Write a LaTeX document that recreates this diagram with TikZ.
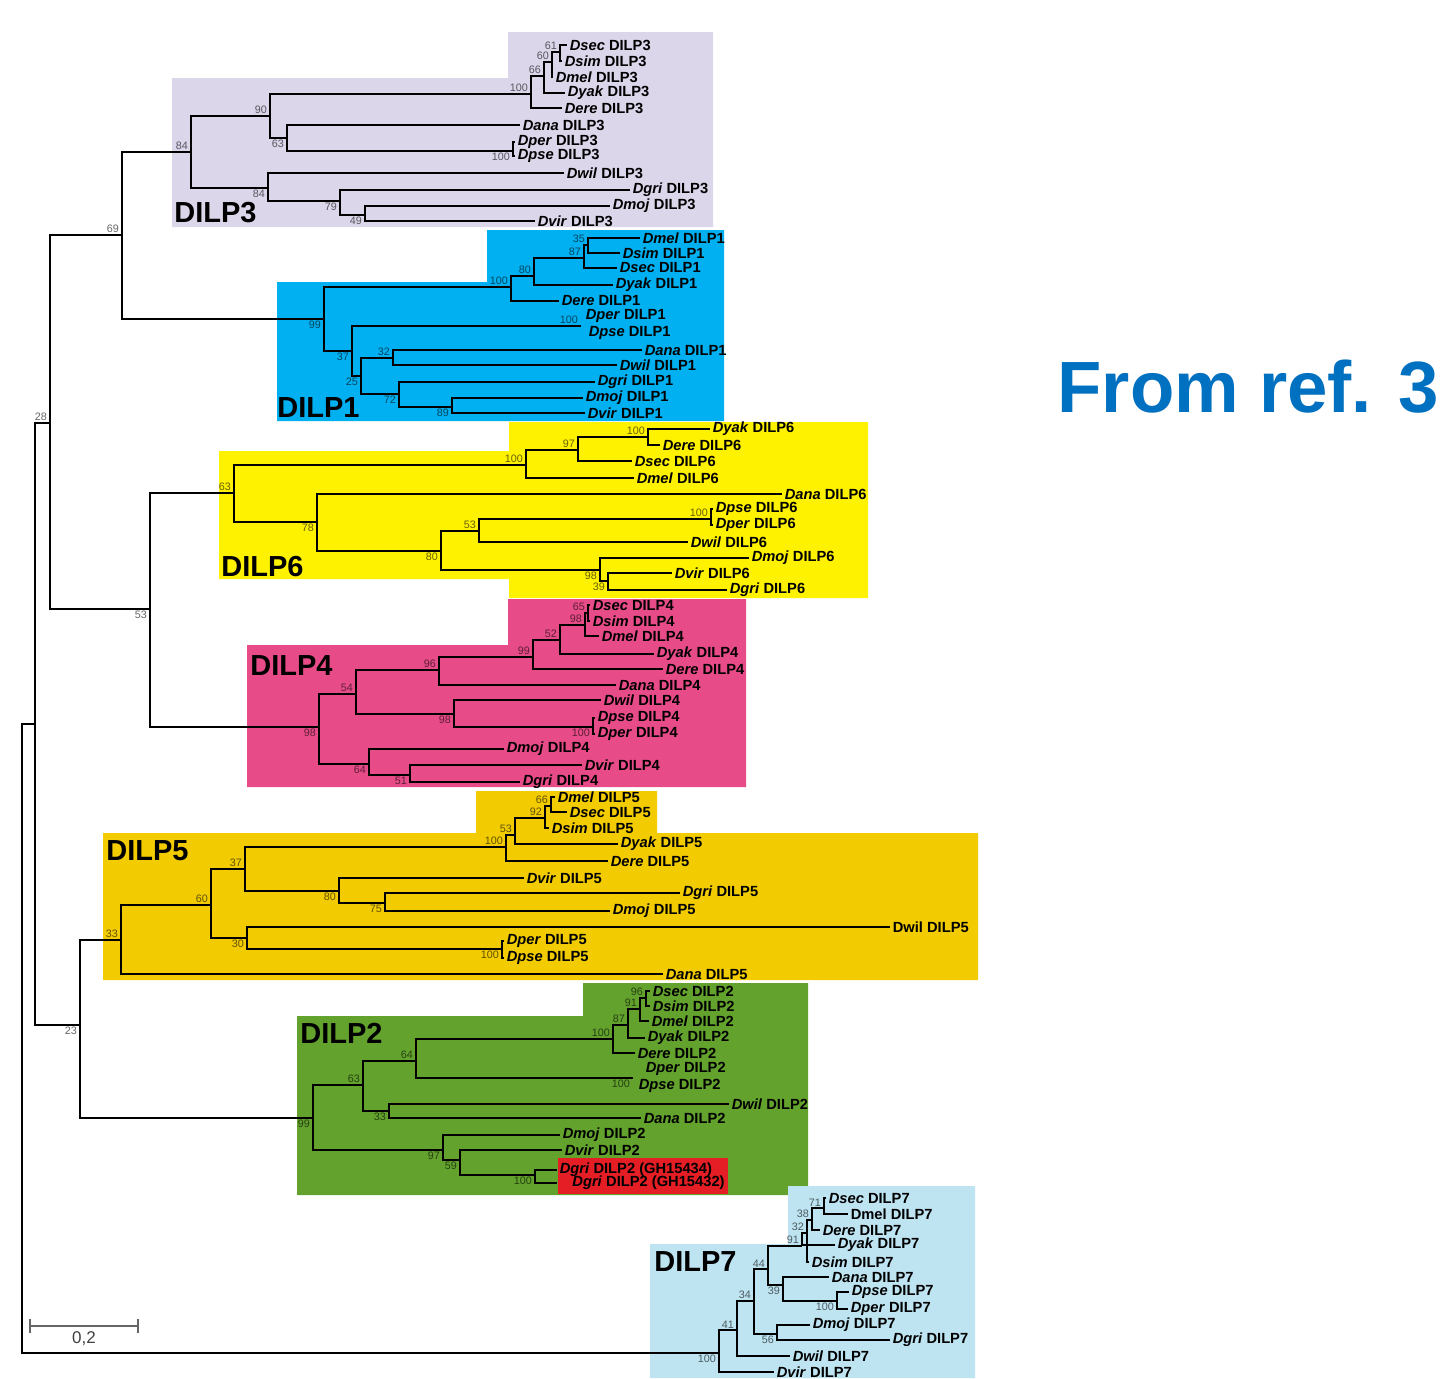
\documentclass[tikz,border=0pt]{standalone}
\usepackage{fontspec}
\setmainfont{Liberation Sans}
\usetikzlibrary{positioning}

\definecolor{boxthree}{RGB}{220,214,234}
\definecolor{boxone}{RGB}{0,176,240}
\definecolor{boxsix}{RGB}{255,242,0}
\definecolor{boxfour}{RGB}{232,76,136}
\definecolor{boxfive}{RGB}{242,204,0}
\definecolor{boxtwo}{RGB}{98,162,45}
\definecolor{boxseven}{RGB}{190,228,242}
\definecolor{boxred}{RGB}{228,30,36}
\definecolor{refblue}{RGB}{0,112,192}

\newcommand{\taxon}[2]{\textit{#1} DILP#2}

\begin{document}
\begin{tikzpicture}[x=0.5pt,y=-0.5pt,
  leaf/.style={anchor=west,inner xsep=1.2pt,inner ysep=0pt,font=\fontsize{7.35}{8}\selectfont\bfseries},
  boot/.style={anchor=south east,inner sep=0pt,xshift=-1.4pt,yshift=0.8pt,font=\fontsize{5.4}{6}\selectfont,text=black,text opacity=0.6},
  bootlow/.style={boot,anchor=north east,yshift=-1.6pt},
  twig/.style={line width=1.4pt},
  spine/.style={line width=1pt},
  grpname/.style={anchor=base west,inner sep=0pt,font=\fontsize{14.5}{16}\selectfont\bfseries}]

\fill[white] (0,0) rectangle (1443,1378);
\useasboundingbox (0,0) rectangle (1443,1378);

% colour boxes
\fill[boxthree] (172,78) -- (508,78) -- (508,32) -- (713,32) -- (713,227) -- (172,227) -- cycle;
\fill[boxone] (277,282) -- (487,282) -- (487,230) -- (724,230) -- (724,421) -- (277,421) -- cycle;
\fill[boxsix] (219,451) -- (509,451) -- (509,422) -- (868,422) -- (868,598) -- (509,598) -- (509,579) -- (219,579) -- cycle;
\fill[boxfour] (247,645) -- (508,645) -- (508,599) -- (746,599) -- (746,787) -- (247,787) -- cycle;
\fill[boxfive] (103,833) -- (476,833) -- (476,791) -- (657,791) -- (657,833) -- (978,833) -- (978,980) -- (103,980) -- cycle;
\fill[boxtwo] (297,1016) -- (583,1016) -- (583,983) -- (808,983) -- (808,1195) -- (297,1195) -- cycle;
\fill[boxred] (558,1158) rectangle (728,1194);
\fill[boxseven] (650,1244) -- (788,1244) -- (788,1186) -- (975,1186) -- (975,1378) -- (650,1378) -- cycle;

% clade names
\node[grpname] (g3) at (174,222) {DILP3};
\node[grpname] (g1) at (277,417) {DILP1};
\node[grpname] (g6) at (221,576) {DILP6};
\node[grpname] (g4) at (250,675) {DILP4};
\node[grpname] (g5) at (106,860) {DILP5};
\node[grpname] (g2) at (300,1043) {DILP2};
\node[grpname] (g7) at (654,1271) {DILP7};

% DILP3
\coordinate (d3n84) at (191,152);
\coordinate (d3n90) at (270,116);
\coordinate (d3n100) at (531,94);
\coordinate (d3n66) at (544,76);
\coordinate (d3n60) at (552,62);
\coordinate (d3n61) at (560,52);
\coordinate (d3n63) at (287,138);
\coordinate (d3nps) at (513,151);
\coordinate (d3n84b) at (268,188);
\coordinate (d3n79) at (340,201);
\coordinate (d3n49) at (365,215);
\node[leaf] (d3sec) at (567,45) {\taxon{Dsec}{3}};
\node[leaf] (d3sim) at (562,61) {\taxon{Dsim}{3}};
\node[leaf] (d3mel) at (553,77) {\taxon{Dmel}{3}};
\node[leaf] (d3yak) at (565,93) {\taxon{Dyak}{3}};
\node[leaf] (d3ere) at (562,108) {\taxon{Dere}{3}};
\node[leaf] (d3ana) at (520,125) {\taxon{Dana}{3}};
\node[leaf] (d3per) at (515,142) {\taxon{Dper}{3}};
\node[leaf] (d3pse) at (515,156) {\taxon{Dpse}{3}};
\node[leaf] (d3wil) at (564,173) {\taxon{Dwil}{3}};
\node[leaf] (d3gri) at (630,190) {\taxon{Dgri}{3}};
\node[leaf] (d3moj) at (610,206) {\taxon{Dmoj}{3}};
\node[leaf] (d3vir) at (535,221) {\taxon{Dvir}{3}};
\foreach \p/\c in {d3n84/d3n90,d3n84/d3n84b,d3n90/d3n100,d3n90/d3n63,d3n100/d3n66,d3n100/d3ere,
  d3n66/d3n60,d3n66/d3yak,d3n60/d3n61,d3n60/d3mel,d3n61/d3sec,d3n61/d3sim,d3n63/d3ana,d3n63/d3nps,
  d3nps/d3per,d3nps/d3pse,d3n84b/d3wil,d3n84b/d3n79,d3n79/d3gri,d3n79/d3n49,d3n49/d3moj,d3n49/d3vir}
  \draw[twig] (\p) |- (\c);

% DILP1
\coordinate (d1n99) at (324,319);
\coordinate (d1n100) at (511,287);
\coordinate (d1n80) at (534,276);
\coordinate (d1n87) at (584,258);
\coordinate (d1n35) at (588,245);
\coordinate (d1n37) at (352,351);
\coordinate (d1nps) at (581,326);
\coordinate (d1n25) at (361,376);
\coordinate (d1n32) at (393,358);
\coordinate (d1n72) at (399,394);
\coordinate (d1n89) at (452,407);
\node[leaf] (d1mel) at (640,238) {\taxon{Dmel}{1}};
\node[leaf] (d1sim) at (620,253) {\taxon{Dsim}{1}};
\node[leaf] (d1sec) at (617,268) {\taxon{Dsec}{1}};
\node[leaf] (d1yak) at (613,285) {\taxon{Dyak}{1}};
\node[leaf] (d1ere) at (559,301) {\taxon{Dere}{1}};
\node[leaf] (d1per) at (583,316) {\taxon{Dper}{1}};
\node[leaf] (d1pse) at (586,333) {\taxon{Dpse}{1}};
\node[leaf] (d1ana) at (642,350) {\taxon{Dana}{1}};
\node[leaf] (d1wil) at (617,365) {\taxon{Dwil}{1}};
\node[leaf] (d1gri) at (595,382) {\taxon{Dgri}{1}};
\node[leaf] (d1moj) at (583,398) {\taxon{Dmoj}{1}};
\node[leaf] (d1vir) at (585,413) {\taxon{Dvir}{1}};
\foreach \p/\c in {d1n99/d1n100,d1n99/d1n37,d1n100/d1n80,d1n100/d1ere,d1n80/d1n87,d1n80/d1yak,
  d1n87/d1n35,d1n87/d1sec,d1n35/d1mel,d1n35/d1sim,d1n37/d1nps,d1n37/d1n25,d1n25/d1n32,d1n25/d1n72,
  d1n32/d1ana,d1n32/d1wil,d1n72/d1gri,d1n72/d1n89,d1n89/d1moj,d1n89/d1vir}
  \draw[twig] (\p) |- (\c);

% DILP6
\coordinate (d6n63) at (234,493);
\coordinate (d6n100) at (526,465);
\coordinate (d6n97) at (578,450);
\coordinate (d6n100b) at (648,437);
\coordinate (d6n78) at (317,522);
\coordinate (d6n80) at (441,551);
\coordinate (d6n53) at (479,531);
\coordinate (d6nps) at (711,519);
\coordinate (d6n98) at (600,570);
\coordinate (d6n39) at (608,581);
\node[leaf] (d6yak) at (710,429) {\taxon{Dyak}{6}};
\node[leaf] (d6ere) at (660,445) {\taxon{Dere}{6}};
\node[leaf] (d6sec) at (632,461) {\taxon{Dsec}{6}};
\node[leaf] (d6mel) at (634,478) {\taxon{Dmel}{6}};
\node[leaf] (d6ana) at (782,494) {\taxon{Dana}{6}};
\node[leaf] (d6pse) at (713,509) {\taxon{Dpse}{6}};
\node[leaf] (d6per) at (713,525) {\taxon{Dper}{6}};
\node[leaf] (d6wil) at (688,542) {\taxon{Dwil}{6}};
\node[leaf] (d6moj) at (749,558) {\taxon{Dmoj}{6}};
\node[leaf] (d6vir) at (672,573) {\taxon{Dvir}{6}};
\node[leaf] (d6gri) at (727,590) {\taxon{Dgri}{6}};
\foreach \p/\c in {d6n63/d6n100,d6n63/d6n78,d6n100/d6n97,d6n100/d6mel,d6n97/d6n100b,d6n97/d6sec,
  d6n100b/d6yak,d6n100b/d6ere,d6n78/d6ana,d6n78/d6n80,d6n80/d6n53,d6n80/d6n98,d6n53/d6nps,d6n53/d6wil,
  d6nps/d6pse,d6nps/d6per,d6n98/d6moj,d6n98/d6n39,d6n39/d6vir,d6n39/d6gri}
  \draw[twig] (\p) |- (\c);

% DILP4
\coordinate (d4n98) at (319,727);
\coordinate (d4n54) at (356,694);
\coordinate (d4n96) at (439,670);
\coordinate (d4n99) at (533,657);
\coordinate (d4n52) at (560,640);
\coordinate (d4n98b) at (585,625);
\coordinate (d4n65) at (588,613);
\coordinate (d4n98c) at (454,714);
\coordinate (d4nps) at (593,727);
\coordinate (d4n64) at (369,764);
\coordinate (d4n51) at (410,775);
\node[leaf] (d4sec) at (590,605) {\taxon{Dsec}{4}};
\node[leaf] (d4sim) at (590,621) {\taxon{Dsim}{4}};
\node[leaf] (d4mel) at (599,636) {\taxon{Dmel}{4}};
\node[leaf] (d4yak) at (654,654) {\taxon{Dyak}{4}};
\node[leaf] (d4ere) at (663,669) {\taxon{Dere}{4}};
\node[leaf] (d4ana) at (616,685) {\taxon{Dana}{4}};
\node[leaf] (d4wil) at (601,700) {\taxon{Dwil}{4}};
\node[leaf] (d4pse) at (595,718) {\taxon{Dpse}{4}};
\node[leaf] (d4per) at (595,734) {\taxon{Dper}{4}};
\node[leaf] (d4moj) at (504,749) {\taxon{Dmoj}{4}};
\node[leaf] (d4vir) at (582,765) {\taxon{Dvir}{4}};
\node[leaf] (d4gri) at (520,782) {\taxon{Dgri}{4}};
\foreach \p/\c in {d4n98/d4n54,d4n98/d4n64,d4n54/d4n96,d4n54/d4n98c,d4n96/d4n99,d4n96/d4ana,
  d4n99/d4n52,d4n99/d4ere,d4n52/d4n98b,d4n52/d4yak,d4n98b/d4n65,d4n98b/d4mel,d4n65/d4sec,d4n65/d4sim,
  d4n98c/d4wil,d4n98c/d4nps,d4nps/d4pse,d4nps/d4per,d4n64/d4moj,d4n64/d4n51,d4n51/d4vir,d4n51/d4gri}
  \draw[twig] (\p) |- (\c);

% DILP5
\coordinate (d5n33) at (121,940);
\coordinate (d5n60) at (211,905);
\coordinate (d5n37) at (245,869);
\coordinate (d5n100) at (506,847);
\coordinate (d5n53) at (515,835);
\coordinate (d5n92) at (545,818);
\coordinate (d5n66) at (551,806);
\coordinate (d5n80) at (339,891);
\coordinate (d5n75) at (385,903);
\coordinate (d5n30) at (247,938);
\coordinate (d5nps) at (502,949);
\node[leaf] (d5mel) at (555,797) {\taxon{Dmel}{5}};
\node[leaf] (d5sec) at (567,812) {\taxon{Dsec}{5}};
\node[leaf] (d5sim) at (549,828) {\taxon{Dsim}{5}};
\node[leaf] (d5yak) at (618,844) {\taxon{Dyak}{5}};
\node[leaf] (d5ere) at (608,861) {\taxon{Dere}{5}};
\node[leaf] (d5vir) at (524,878) {\taxon{Dvir}{5}};
\node[leaf] (d5gri) at (680,893) {\taxon{Dgri}{5}};
\node[leaf] (d5moj) at (610,911) {\taxon{Dmoj}{5}};
\node[leaf] (d5wil) at (890,927) {Dwil DILP5};
\node[leaf] (d5per) at (504,941) {\taxon{Dper}{5}};
\node[leaf] (d5pse) at (504,958) {\taxon{Dpse}{5}};
\node[leaf] (d5ana) at (663,974) {\taxon{Dana}{5}};
\foreach \p/\c in {d5n33/d5n60,d5n33/d5ana,d5n60/d5n37,d5n60/d5n30,d5n37/d5n100,d5n37/d5n80,
  d5n100/d5n53,d5n100/d5ere,d5n53/d5n92,d5n53/d5yak,d5n92/d5n66,d5n92/d5sim,d5n66/d5mel,d5n66/d5sec,
  d5n80/d5vir,d5n80/d5n75,d5n75/d5gri,d5n75/d5moj,d5n30/d5wil,d5n30/d5nps,d5nps/d5per,d5nps/d5pse}
  \draw[twig] (\p) |- (\c);

% DILP2
\coordinate (d2n99) at (313,1118);
\coordinate (d2n63) at (363,1085);
\coordinate (d2n64) at (416,1061);
\coordinate (d2n100) at (613,1039);
\coordinate (d2n87) at (628,1025);
\coordinate (d2n91) at (640,1009);
\coordinate (d2n96) at (646,998);
\coordinate (d2nps) at (633,1078);
\coordinate (d2n33) at (389,1111);
\coordinate (d2n97) at (443,1150);
\coordinate (d2n59) at (460,1160);
\coordinate (d2n100b) at (535,1175);
\node[leaf] (d2sec) at (650,991) {\taxon{Dsec}{2}};
\node[leaf] (d2sim) at (650,1006) {\taxon{Dsim}{2}};
\node[leaf] (d2mel) at (649,1021) {\taxon{Dmel}{2}};
\node[leaf] (d2yak) at (645,1038) {\taxon{Dyak}{2}};
\node[leaf] (d2ere) at (635,1053) {\taxon{Dere}{2}};
\node[leaf] (d2per) at (643,1069) {\taxon{Dper}{2}};
\node[leaf] (d2pse) at (636,1086) {\taxon{Dpse}{2}};
\node[leaf] (d2wil) at (729,1104) {\taxon{Dwil}{2}};
\node[leaf] (d2ana) at (641,1118) {\taxon{Dana}{2}};
\node[leaf] (d2moj) at (560,1135) {\taxon{Dmoj}{2}};
\node[leaf] (d2vir) at (562,1150) {\taxon{Dvir}{2}};
\node[leaf] (d2gri1) at (557,1170) {\taxon{Dgri}{2 (GH15434)}};
\node[leaf,inner xsep=7.5pt] (d2gri2) at (557,1183) {\taxon{Dgri}{2 (GH15432)}};
\foreach \p/\c in {d2n99/d2n63,d2n99/d2n97,d2n63/d2n64,d2n63/d2n33,d2n64/d2n100,d2n64/d2nps,
  d2n100/d2n87,d2n100/d2ere,d2n87/d2n91,d2n87/d2yak,d2n91/d2n96,d2n91/d2mel,d2n96/d2sec,d2n96/d2sim,
  d2n33/d2wil,d2n33/d2ana,d2n97/d2moj,d2n97/d2n59,d2n59/d2vir,d2n59/d2n100b,d2n100b/d2gri1,d2n100b/d2gri2}
  \draw[twig] (\p) |- (\c);

% DILP7
\coordinate (d7n100) at (719,1353);
\coordinate (d7n41) at (737,1330);
\coordinate (d7n34) at (754,1301);
\coordinate (d7n44) at (768,1269);
\coordinate (d7n91) at (802,1246);
\coordinate (d7n32) at (807,1233);
\coordinate (d7n38) at (812,1220);
\coordinate (d7n71) at (824,1208);
\coordinate (d7n39) at (783,1285);
\coordinate (d7n100b) at (837,1301);
\coordinate (d7n56) at (777,1334);
\node[leaf] (d7sec) at (826,1198) {\taxon{Dsec}{7}};
\node[leaf] (d7mel) at (848,1214) {Dmel DILP7};
\node[leaf] (d7ere) at (820,1230) {\taxon{Dere}{7}};
\node[leaf] (d7yak) at (835,1245) {\taxon{Dyak}{7}};
\node[leaf] (d7sim) at (809,1262) {\taxon{Dsim}{7}};
\node[leaf] (d7ana) at (829,1277) {\taxon{Dana}{7}};
\node[leaf] (d7pse) at (849,1292) {\taxon{Dpse}{7}};
\node[leaf] (d7per) at (848,1309) {\taxon{Dper}{7}};
\node[leaf] (d7moj) at (810,1325) {\taxon{Dmoj}{7}};
\node[leaf] (d7gri) at (890,1340) {\taxon{Dgri}{7}};
\node[leaf] (d7wil) at (790,1356) {\taxon{Dwil}{7}};
\node[leaf] (d7vir) at (774,1372) {\taxon{Dvir}{7}};
\foreach \p/\c in {d7n100/d7n41,d7n100/d7vir,d7n41/d7n34,d7n41/d7wil,d7n34/d7n44,d7n34/d7n56,
  d7n44/d7n91,d7n44/d7n39,d7n91/d7n32,d7n91/d7yak,d7n32/d7n38,d7n32/d7sim,d7n38/d7n71,d7n38/d7ere,
  d7n71/d7sec,d7n71/d7mel,d7n39/d7ana,d7n39/d7n100b,d7n100b/d7pse,d7n100b/d7per,d7n56/d7moj,d7n56/d7gri}
  \draw[twig] (\p) |- (\c);

% backbone
\coordinate (root) at (22,1000);
\coordinate (nA) at (35,724);
\coordinate (n28) at (50,423);
\coordinate (n69) at (122,235);
\coordinate (n53) at (150,609);
\coordinate (n23) at (80,1025);
\foreach \p/\c in {root/nA,root/d7n100,nA/n28,nA/n23,n28/n69,n28/n53,n69/d3n84,n69/d1n99,
  n53/d6n63,n53/d4n98,n23/d5n33,n23/d2n99}
  \draw[spine] (\p) |- (\c);

% bootstrap values
\foreach \n/\v in {n69/69,n28/28,d3n84/84,d3n90/90,d3n100/100,d3n66/66,d3n60/60,d3n61/61,
  d1n100/100,d1n80/80,d1n87/87,d1n35/35,d1n32/32,d1nps/100,
  d6n63/63,d6n100/100,d6n97/97,d6n100b/100,d6n53/53,d6nps/100,
  d4n54/54,d4n96/96,d4n99/99,d4n52/52,d4n98b/98,d4n65/65,
  d5n33/33,d5n60/60,d5n37/37,d5n100/100,d5n53/53,d5n92/92,d5n66/66,
  d2n63/63,d2n64/64,d2n100/100,d2n87/87,d2n91/91,d2n96/96,
  d7n41/41,d7n34/34,d7n44/44,d7n91/91,d7n32/32,d7n38/38,d7n71/71}
  \node[boot] (b\n) at (\n) {\v};
\foreach \n/\v in {n53/53,n23/23,d3n63/63,d3n84b/84,d3n79/79,d3n49/49,d3nps/100,
  d1n99/99,d1n37/37,d1n25/25,d1n72/72,d1n89/89,
  d6n78/78,d6n80/80,d6n98/98,d6n39/39,
  d4n98/98,d4n98c/98,d4nps/100,d4n64/64,d4n51/51,
  d5n80/80,d5n75/75,d5n30/30,d5nps/100,
  d2n99/99,d2nps/100,d2n33/33,d2n97/97,d2n59/59,d2n100b/100,
  d7n100/100,d7n39/39,d7n100b/100,d7n56/56}
  \node[bootlow] (b\n) at (\n) {\v};

% scale bar
\coordinate (sbl) at (30,1326);
\coordinate (sbr) at (138,1326);
\draw[black!60,line width=0.6pt] (sbl) -- (sbr);
\draw[black!60,line width=0.6pt] ([yshift=3.5pt]sbl) -- ([yshift=-3.5pt]sbl);
\draw[black!60,line width=0.6pt] ([yshift=3.5pt]sbr) -- ([yshift=-3.5pt]sbr);
\node[inner sep=0pt,font=\fontsize{8.5}{9}\selectfont,text=black!75] (sbtext) at (84,1339) {0,2};

\node[anchor=base west,inner sep=0pt,text=refblue,font=\fontsize{36.3}{40}\selectfont\bfseries] (ref) at (1057,412) {From ref. 3};
\end{tikzpicture}
\end{document}
